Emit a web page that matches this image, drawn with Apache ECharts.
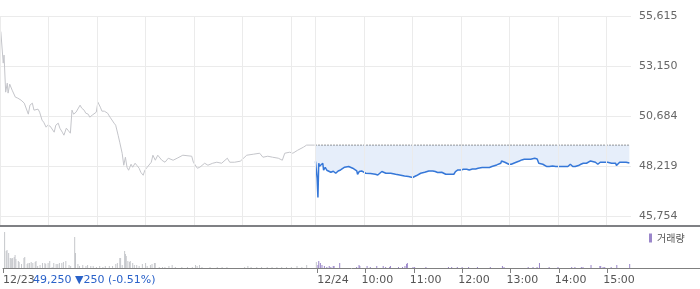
<!DOCTYPE html>
<html><head><meta charset="utf-8">
<script src="https://cdn.jsdelivr.net/npm/echarts@6/dist/echarts.min.js"></script>
<style>html,body{margin:0;padding:0;background:#fff}#c{width:700px;height:289px}</style>
</head><body><div id="c"></div>
<script>
// ---- data ----
const sessionMinutes = 390; // 09:00-15:30
const prevClose = 49250;
const prevChange = -250;
const prevChangePct = -0.51;

const prevTimes = [1,4,5,7,9,10,12,15,19,22,26,30,32,35,37,40,42,44,47,49,52,54,57,59,62,64,67,69,72,74,77,79,82,84,87,89,91,94,96,99,101,104,106,109,111,114,116,119,121,124,126,129,131,133,136,138,141,143,146,148,151,153,155,157,159,162,164,167,169,172,174,177,179,182,184,187,189,192,195,200,204,208,214,219,226,237,239,244,247,253,257,263,268,274,281,284,290,297,305,313,321,325,331,337,344,349,352,358,362,368,375,379,389];
const prevPrices = [54850,53293,53688,51861,52305,51812,52256,51960,51614,51565,51466,51318,51367,50775,51219,51318,50972,50874,51022,50874,50479,50380,50133,50232,50182,50084,49886,50232,50331,50084,49886,49738,50084,49985,49837,50972,50775,50874,50923,51219,51071,50972,50824,50775,50627,50726,50824,50874,51367,51120,50923,50923,50874,50824,50627,50577,50331,50232,49738,49393,48849,48257,48652,48158,48010,48306,48158,48356,48257,48109,47911,47763,48010,48158,48109,48405,48751,48504,48751,48504,48405,48603,48504,48603,48751,48701,48405,48109,48158,48356,48257,48356,48405,48356,48603,48405,48405,48455,48751,48800,48849,48652,48701,48652,48603,48504,48849,48899,48849,48998,49146,49250,49250];

const todayTimes = [0,2,3,4,5,6,7,9,10,12,14,16,19,20,22,25,26,28,31,33,36,38,41,43,46,48,51,52,54,57,58,62,64,68,70,74,77,79,82,84,87,89,93,95,99,101,104,106,110,112,115,117,120,122,125,127,130,132,135,137,140,142,145,148,151,153,156,158,161,163,166,168,171,173,176,178,180,183,187,190,194,198,201,206,211,215,218,220,224,226,229,230,231,234,236,239,242,245,248,252,255,258,262,266,268,271,274,276,278,281,283,286,289,293,297,299,302,304,307,309,312,315,318,321,325,328,331,335,337,340,342,346,349,351,352,355,358,361,363,366,368,371,372,373,376,379,384,388];
const todayPrices = [48440,47615,46662,48356,48208,48306,48208,48356,48010,48158,48010,47961,47911,47813,47961,47862,47813,47976,48025,48074,48158,48109,48193,48144,48109,48025,47976,47813,47946,47976,47897,47862,47813,47847,47813,47813,47778,47778,47946,47877,47862,47828,47862,47828,47813,47778,47778,47749,47729,47749,47699,47650,47650,47699,47749,47813,47862,47862,47911,47946,47976,48010,47976,47946,47897,47946,47911,47911,47813,47778,47813,47778,47813,47946,48025,48109,48025,48060,48060,48025,48074,48074,48109,48144,48144,48144,48193,48272,48272,48272,48356,48469,48469,48405,48356,48306,48306,48356,48405,48469,48519,48553,48553,48553,48568,48603,48568,48356,48356,48306,48272,48193,48193,48223,48193,48144,48193,48242,48193,48193,48193,48306,48193,48193,48242,48306,48356,48356,48405,48469,48440,48405,48306,48272,48405,48405,48405,48405,48405,48356,48356,48356,48242,48306,48405,48405,48405,48370];

const prevVolTimes = [2,4,5,7,9,10,11,12,14,15,16,19,20,23,26,27,30,31,33,35,37,40,41,43,46,49,52,53,56,58,61,63,66,68,70,73,75,78,82,84,89,90,93,95,99,103,105,109,112,116,120,124,127,132,136,140,142,145,146,148,151,152,153,155,157,158,161,163,166,169,173,177,179,183,185,188,189,194,198,201,206,210,214,222,229,235,239,241,244,247,257,266,272,278,300,304,308,315,321,328,334,340,346,352,358,365,371,377,389];
const prevVols = [36,17,18,15,10,10,9,10,11,13,9,7,6,4,10,11,4,5,5,6,5,6,7,2,3,5,5,4,5,7,1,5,4,4,5,5,6,7,3,2,31,15,4,2,3,2,3,2,2,1,2,1,2,2,2,4,5,10,10,3,17,14,12,7,6,7,5,3,3,2,4,5,2,3,4,5,5,1,1,1,2,3,1,1,1,1,3,2,3,1,1,1,1,1,1,2,1,1,1,1,1,1,1,1,1,2,1,3,6];
const todayVolTimes = [1,2,4,6,9,12,15,17,20,21,28,49,52,53,62,66,74,82,85,90,91,101,106,109,111,112,119,121,135,163,167,174,180,188,199,215,230,232,262,268,273,276,288,299,316,320,328,330,340,351,352,355,357,365,372,388];
const todayVols = [3,7,5,3,2,1,2,1,2,2,5,1,3,2,2,1,2,2,1,1,2,1,1,2,4,5,1,1,1,1,1,1,1,1,1,1,2,1,1,1,1,5,1,1,1,1,1,1,3,2,2,1,1,1,3,4];

const yTicks = [45754, 48219, 50684, 53150, 55615];
const yTickLabels = ['45,754', '48,219', '50,684', '53,150', '55,615'];
const xTickMinutes = [0, 390, 450, 510, 570, 630, 690, 750];
const xTickLabels = ['12/23', '12/24', '10:00', '11:00', '12:00', '13:00', '14:00', '15:00'];
const gridMinutes = [0, 60, 120, 180, 240, 300, 360, 390, 450, 510, 570, 630, 690, 750];

// ---- layout ----
const W = 700, PLOT_W = 631;
const totalMinutes = sessionMinutes * 2;
const volAxisMax = totalMinutes * W / PLOT_W;
const timeLabelShift = 4 * totalMinutes / PLOT_W; // time labels start 4px left of their tick
const FONT = 'DejaVu Sans';

const fmt = v => v.toLocaleString('en-US');
const infoText = fmt(prevClose) + ' ' + (prevChange < 0 ? '▼' : '▲') + Math.abs(prevChange) + ' (' + prevChangePct.toFixed(2) + '%)';

const isDate = l => l.indexOf('/') >= 0;
const dateTicks = xTickMinutes.filter((m, i) => isDate(xTickLabels[i]));
const timeTicks = xTickMinutes.filter((m, i) => !isDate(xTickLabels[i]));
const labelFor = v => { const i = xTickMinutes.findIndex(m => Math.abs(m - v) < 1e-6); return i >= 0 ? xTickLabels[i] : ''; };

const prevLine = prevTimes.map((t, i) => [t, prevPrices[i]]);
const todayLine = todayTimes.map((t, i) => [sessionMinutes + t, todayPrices[i]]);
const prevVolData = prevVolTimes.map((t, i) => [t, prevVols[i]]);
const todayVolData = todayVolTimes.map((t, i) => [sessionMinutes + t, todayVols[i]]);
const lastToday = sessionMinutes + todayTimes[todayTimes.length - 1];

const labelStyle = {color: '#555', fontSize: 11, fontFamily: FONT};

const chart = echarts.init(document.getElementById('c'), null, {renderer: 'canvas'});
chart.setOption({
  animation: false,
  backgroundColor: '#fff',
  title: {
    text: infoText, left: 33, top: 275, padding: 0,
    textStyle: {color: '#2a62c9', fontSize: 11, fontWeight: 'normal', fontFamily: FONT}
  },
  legend: {
    data: ['거래량'], left: 649, top: 233, padding: 0, selectedMode: false,
    icon: 'rect', itemWidth: 3, itemHeight: 9,
    textStyle: {color: '#555', fontSize: 10, fontFamily: 'Noto Sans CJK KR'}
  },
  graphic: [{
    type: 'line', silent: true, z: 10,
    shape: {x1: 0, y1: 226, x2: W, y2: 226},
    style: {stroke: '#7f8084', lineWidth: 2}
  }],
  grid: [
    {left: 0, top: 16, width: PLOT_W, height: 200},
    {left: 0, top: 16, width: PLOT_W, height: 209},
    {left: 0, top: 227, width: W, height: 41}
  ],
  xAxis: [
    {gridIndex: 0, type: 'value', min: 0, max: totalMinutes, show: false},
    {gridIndex: 1, type: 'value', min: 0, max: totalMinutes, show: false},
    {gridIndex: 2, type: 'value', min: 0, max: volAxisMax, position: 'bottom', offset: 0,
     splitLine: {show: false},
     axisLine: {show: true, lineStyle: {color: '#808080', width: 1}},
     axisTick: {show: true, customValues: xTickMinutes, length: 5, lineStyle: {color: '#808080'}},
     axisLabel: Object.assign({show: true, customValues: dateTicks, margin: 7, align: 'left', formatter: labelFor}, labelStyle)
    },
    {gridIndex: 2, type: 'value', min: timeLabelShift, max: volAxisMax + timeLabelShift, position: 'bottom', offset: 0,
     splitLine: {show: false}, axisLine: {show: false}, axisTick: {show: false},
     axisLabel: Object.assign({show: true, customValues: timeTicks, margin: 7, align: 'left', formatter: labelFor}, labelStyle)
    }
  ],
  yAxis: [
    {gridIndex: 0, type: 'value', position: 'right', min: yTicks[0], max: yTicks[4],
     interval: (yTicks[4] - yTicks[0]) / 4,
     axisLine: {show: false}, axisTick: {show: false},
     splitLine: {show: true, lineStyle: {color: '#ebebeb', width: 1}},
     axisLabel: {margin: 8, color: '#666', fontSize: 11, fontFamily: FONT,
       formatter: v => { const i = yTicks.findIndex(t => Math.abs(t - v) < 1); return i >= 0 ? yTickLabels[i] : ''; }}
    },
    {gridIndex: 1, type: 'value', min: 0, max: 1, show: false},
    {gridIndex: 2, type: 'value', min: 0, max: 41, show: false}
  ],
  series: [
    {
      type: 'line', xAxisIndex: 1, yAxisIndex: 1, data: [[0, 0]], silent: true,
      symbol: 'none', lineStyle: {width: 0, opacity: 0},
      markLine: {
        silent: true, symbol: ['none', 'none'], label: {show: false},
        lineStyle: {color: '#ebebeb', type: 'solid', width: 1},
        data: gridMinutes.map(m => ({xAxis: m}))
      }
    },
    {
      name: '전일', type: 'line', xAxisIndex: 0, yAxisIndex: 0, data: prevLine,
      symbol: 'none', lineStyle: {color: '#c4c5ca', width: 1}, z: 3
    },
    {
      name: '당일', type: 'line', xAxisIndex: 0, yAxisIndex: 0, data: todayLine,
      symbol: 'none', lineStyle: {color: '#3577d8', width: 1.5},
      areaStyle: {origin: prevClose, color: '#e6eefa', opacity: 1}, z: 3
    },
    {
      name: '전일종가', type: 'line', xAxisIndex: 0, yAxisIndex: 0,
      data: [[sessionMinutes, prevClose], [lastToday, prevClose]],
      symbol: 'none', lineStyle: {color: '#333', width: 1, type: [1, 2]}, z: 4
    },
    {
      name: '거래량(전일)', type: 'bar', xAxisIndex: 2, yAxisIndex: 2, stack: 'vol',
      data: prevVolData, barWidth: 1, itemStyle: {color: '#c5c7cb'}
    },
    {
      name: '거래량', type: 'bar', xAxisIndex: 2, yAxisIndex: 2, stack: 'vol',
      data: todayVolData, barWidth: 1, itemStyle: {color: '#9a86ca'}
    }
  ]
});
</script>
</body></html>
